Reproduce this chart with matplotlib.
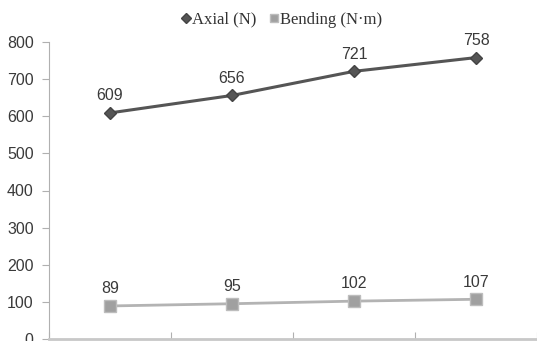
import matplotlib
matplotlib.use('Agg')
import matplotlib.pyplot as plt
import numpy as np

categories = ['1', '2', '3', '4']
axial = [609, 656, 721, 758]
bending = [89, 95, 102, 107]
yticks = [0, 100, 200, 300, 400, 500, 600, 700, 800]

fig = plt.figure(figsize=(5.37, 3.41), dpi=100)
ax = fig.add_axes([49 / 537, 2 / 341, 1 - 49 / 537, 297 / 341])

x = np.arange(len(categories))
ax.plot(x, axial, color='#555555', lw=2.2, marker='D', ms=6.5,
        mfc='#555555', mec='#444444', label='Axial (N)')
ax.plot(x, bending, color='#b3b3b3', lw=2, marker='s', ms=8,
        mfc='#a0a0a0', mec='#bdbdbd', label='Bending (N·m)')

for xi, v in zip(x, axial):
    ax.annotate(str(v), (xi, v), xytext=(0, 7), textcoords='offset points',
                ha='center', va='bottom', fontsize=11.5, color='#3a3a3a',
                family='Liberation Sans')
for xi, v in zip(x, bending):
    ax.annotate(str(v), (xi, v), xytext=(0, 7), textcoords='offset points',
                ha='center', va='bottom', fontsize=11.5, color='#3a3a3a',
                family='Liberation Sans')

ax.set_xlim(-0.5, len(categories) - 0.5)
ax.set_ylim(0, 800)
ax.set_yticks(yticks)
ax.set_xticks(np.arange(len(categories) + 1) - 0.5)
ax.set_xticklabels([])
ax.tick_params(axis='y', length=5, color='#b0b0b0', labelsize=11.5,
               labelcolor='#3a3a3a', pad=6)
ax.tick_params(axis='x', length=5, color='#b0b0b0', direction='in')
for lab in ax.get_yticklabels():
    lab.set_family('Liberation Sans')
for s in ['top', 'right']:
    ax.spines[s].set_visible(False)
ax.spines['left'].set_color('#b0b0b0')
ax.spines['bottom'].set_color('#c8c8c8')
ax.spines['bottom'].set_linewidth(2)

leg = fig.legend(loc='upper center', bbox_to_anchor=(0.525, 1.01), ncol=2,
                 frameon=False, prop={'family': 'Liberation Serif', 'size': 12},
                 handlelength=0.5, handletextpad=0.1, columnspacing=0.8,
                 markerscale=0.8)
for line in leg.get_lines():
    line.set_linestyle('none')
for t in leg.get_texts():
    t.set_color('#333333')

fig.savefig('out.png', dpi=100)
